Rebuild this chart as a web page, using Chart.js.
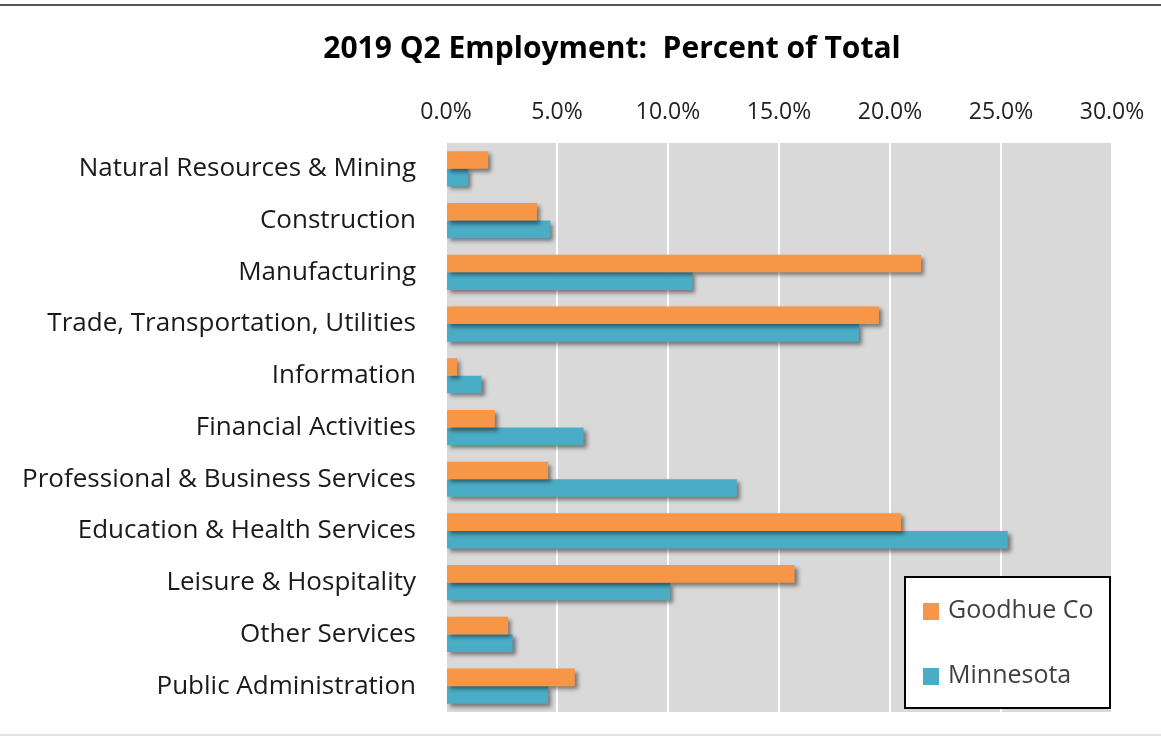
<!DOCTYPE html>
<html>
<head>
<meta charset="utf-8">
<script src="https://cdn.jsdelivr.net/npm/chart.js@4.4.1/dist/chart.umd.min.js"></script>
<style>
  html, body { margin: 0; padding: 0; background: #fff; }
  #wrap { width: 1161px; height: 739px; position: relative; }
</style>
</head>
<body>
<div id="wrap"><canvas id="empChart" width="1161" height="739"></canvas></div>
<script>
// --- Datos ---
const categories = [
  'Natural Resources & Mining',
  'Construction',
  'Manufacturing',
  'Trade, Transportation, Utilities',
  'Information',
  'Financial Activities',
  'Professional & Business Services',
  'Education & Health Services',
  'Leisure & Hospitality',
  'Other Services',
  'Public Administration'
];
const goodhueValues = [1.9, 4.1, 21.4, 19.5, 0.5, 2.2, 4.6, 20.5, 15.7, 2.8, 5.8];
const minnesotaValues = [1.0, 4.7, 11.1, 18.6, 1.6, 6.2, 13.1, 25.3, 10.1, 3.0, 4.6];
const tickValues = [0, 5, 10, 15, 20, 25, 30];

const FONT = "'Open Sans', 'DejaVu Sans', sans-serif";
const orange = '#F79646';
const blue = '#4BACC6';

// fondo gris del area de trazado + lineas de marco
const backgroundPlugin = {
  id: 'plotBackground',
  beforeDraw(chart) {
    const { ctx, chartArea } = chart;
    ctx.save();
    ctx.fillStyle = '#fff';
    ctx.fillRect(0, 0, chart.width, chart.height);
    ctx.fillStyle = '#d9d9d9';
    ctx.fillRect(chartArea.left, chartArea.top, chartArea.right - chartArea.left, chartArea.bottom - chartArea.top);
    ctx.strokeStyle = '#555';
    ctx.lineWidth = 2;
    ctx.beginPath();
    ctx.moveTo(0, 5);
    ctx.lineTo(chart.width, 5);
    ctx.stroke();
    ctx.strokeStyle = '#e4e4e4';
    ctx.beginPath();
    ctx.moveTo(0, 735);
    ctx.lineTo(chart.width, 735);
    ctx.stroke();
    // titulo
    ctx.fillStyle = '#000';
    ctx.font = 'bold 30px ' + FONT;
    ctx.textAlign = 'center';
    ctx.textBaseline = 'middle';
    ctx.fillText('2019 Q2 Employment:  Percent of Total', 612, 49);
    ctx.restore();
  }
};

// sombra de las barras
const shadowPlugin = {
  id: 'barShadow',
  beforeDatasetsDraw(chart) {
    const ctx = chart.ctx;
    ctx.save();
    ctx.shadowColor = 'rgba(0,0,0,0.45)';
    ctx.shadowBlur = 4;
    ctx.shadowOffsetX = 3;
    ctx.shadowOffsetY = 3;
  },
  afterDatasetsDraw(chart) {
    chart.ctx.restore();
  }
};

// leyenda dentro del grafico
const legendBoxPlugin = {
  id: 'legendBox',
  afterDraw(chart) {
    const ctx = chart.ctx;
    ctx.save();
    ctx.fillStyle = '#fff';
    ctx.fillRect(905, 577, 205, 131);
    ctx.strokeStyle = '#000';
    ctx.lineWidth = 2;
    ctx.strokeRect(905, 577, 205, 131);
    ctx.font = '25px ' + FONT;
    ctx.textBaseline = 'middle';
    ctx.textAlign = 'left';
    chart.data.datasets.forEach((ds, i) => {
      const y = 611 + i * 65;
      ctx.fillStyle = ds.backgroundColor;
      ctx.fillRect(923, y - 8, 16, 17);
      ctx.fillStyle = '#404040';
      ctx.fillText(ds.label, 948, y);
    });
    ctx.restore();
  }
};

const ctx = document.getElementById('empChart').getContext('2d');
const empChart = new Chart(ctx, {
  type: 'bar',
  data: {
    labels: categories,
    datasets: [
      { label: 'Goodhue Co', data: goodhueValues, backgroundColor: orange },
      { label: 'Minnesota', data: minnesotaValues, backgroundColor: blue }
    ]
  },
  options: {
    indexAxis: 'y',
    responsive: false,
    animation: false,
    categoryPercentage: 0.68,
    barPercentage: 1.0,
    layout: { padding: { top: 90, bottom: 27, right: 49, left: 0 } },
    plugins: {
      legend: { display: false },
      title: { display: false },
      tooltip: { enabled: false }
    },
    scales: {
      x: {
        position: 'top',
        min: 0,
        max: 30,
        afterBuildTicks(scale) {
          scale.ticks = tickValues.map(v => ({ value: v }));
        },
        afterFit(scale) {
          scale.height = 53;
          scale.paddingLeft = 0;
          scale.paddingRight = 0;
        },
        ticks: {
          callback: v => v.toFixed(1) + '%',
          font: { family: FONT, size: 23 },
          color: '#222',
          padding: 17,
          maxRotation: 0
        },
        grid: { color: '#fff', lineWidth: 2, drawTicks: false },
        border: { display: false }
      },
      y: {
        afterFit(scale) {
          scale.width = 446;
          scale.paddingTop = 0;
          scale.paddingBottom = 0;
        },
        ticks: {
          font: { family: FONT, size: 26 },
          color: '#1a1a1a',
          padding: 22
        },
        grid: { display: false },
        border: { display: false }
      }
    }
  },
  plugins: [backgroundPlugin, shadowPlugin, legendBoxPlugin]
});
</script>
</body>
</html>
